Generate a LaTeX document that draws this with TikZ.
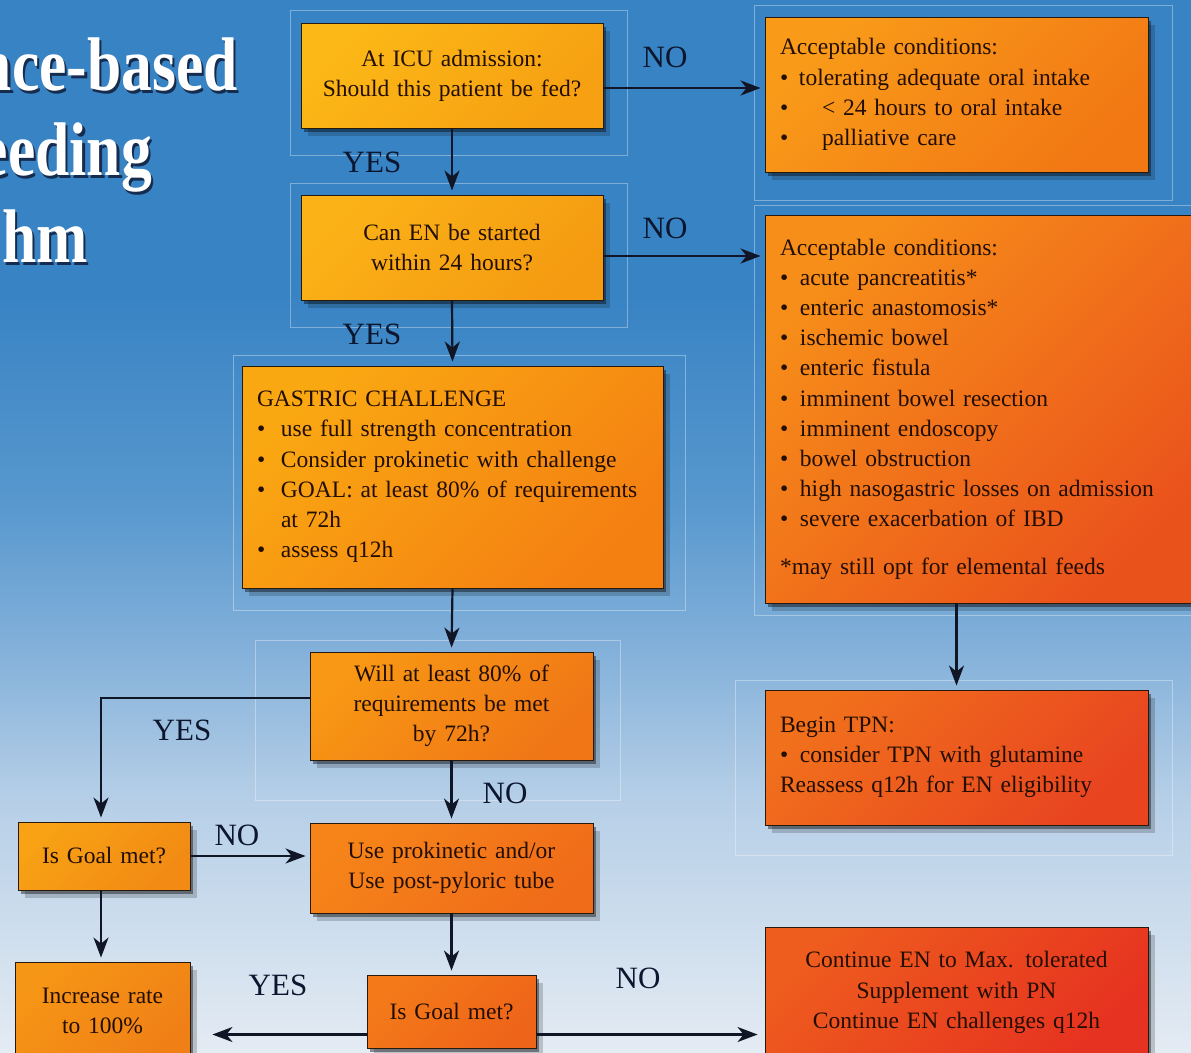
\documentclass[tikz,border=0pt]{standalone}
\usepackage{fontspec}
\setmainfont{Liberation Serif}
\usetikzlibrary{arrows.meta,shadows,calc}
\definecolor{bgA}{RGB}{228,235,243}
\definecolor{bgB}{RGB}{182,207,231}
\definecolor{bgC}{RGB}{132,177,218}
\definecolor{bgD}{RGB}{88,152,206}
\definecolor{bgE}{RGB}{56,131,196}
\definecolor{txtc}{RGB}{34,14,2}
\definecolor{labc}{RGB}{12,22,46}
\definecolor{linec}{RGB}{16,22,38}
\definecolor{tsh}{RGB}{22,44,78}
\definecolor{q1a}{RGB}{252,184,22}\definecolor{q1b}{RGB}{246,160,18}
\definecolor{q2a}{RGB}{251,178,22}\definecolor{q2b}{RGB}{245,155,18}
\definecolor{gasa}{RGB}{250,168,18}\definecolor{gasb}{RGB}{244,128,18}
\definecolor{r1a}{RGB}{249,155,25}\definecolor{r1b}{RGB}{242,120,20}
\definecolor{r2a}{RGB}{247,142,25}\definecolor{r2b}{RGB}{234,82,28}
\definecolor{willa}{RGB}{248,152,20}\definecolor{willb}{RGB}{240,118,22}
\definecolor{g1a}{RGB}{248,162,20}\definecolor{g1b}{RGB}{242,138,20}
\definecolor{prka}{RGB}{246,132,25}\definecolor{prkb}{RGB}{240,108,25}
\definecolor{inca}{RGB}{246,150,22}\definecolor{incb}{RGB}{240,128,22}
\definecolor{g2a}{RGB}{244,122,25}\definecolor{g2b}{RGB}{238,100,25}
\definecolor{tpna}{RGB}{241,112,28}\definecolor{tpnb}{RGB}{232,68,32}
\definecolor{cona}{RGB}{238,92,30}\definecolor{conb}{RGB}{230,50,32}
\pgfdeclareverticalshading{bgshade}{100bp}{color(0bp)=(bgA); color(25bp)=(bgA); color(37bp)=(bgB); color(44bp)=(bgC); color(51bp)=(bgD); color(61bp)=(bgE); color(75bp)=(bgE); color(100bp)=(bgE)}
\newcommand\bodyfont{\fontsize{23.5}{30.2}\selectfont}
\newcommand\labfont{\fontsize{31}{34}\selectfont}
\newcommand\titlefont{\fontsize{76}{80}\selectfont\bfseries}
\newcommand\bulA{\makebox[19pt][l]{•}}
\newcommand\bulB{\makebox[20pt][l]{•}}
\newcommand\bulG{\makebox[24pt][l]{•}}
\newcommand\ttltext[1]{\scalebox{0.81}[1]{\rlap{\hspace{3pt}\raisebox{-3pt}{\color{tsh}#1}}#1}}
\tikzset{
  box/.style={draw=black!80!brown, line width=0.9pt, inner xsep=15pt, inner ysep=3pt,
    text=txtc, font=\bodyfont,
    drop shadow={shadow xshift=7pt, shadow yshift=-8pt, opacity=0.18, fill=black},
    drop shadow={shadow xshift=3pt, shadow yshift=-4pt, opacity=0.4, fill=black}},
  shd/.style 2 args={left color=#1, right color=#2, shading angle=45},
  arr/.style={draw=linec, line width=2.2pt, shorten >=4pt, -{Stealth[length=20pt,width=15pt,inset=6pt]}},
  lab/.style={font=\labfont, text=labc, inner sep=0pt},
  frame/.style={draw=white, draw opacity=0.35, line width=1pt},
  ttl/.style={font=\titlefont, text=white, inner sep=0pt, anchor=base east}
}
\begin{document}
\begin{tikzpicture}[x=1pt,y=-1pt]
\useasboundingbox (0,0) rectangle (1191,1052);
\clip (0,0) rectangle (1191,1052);
\shade[shading=bgshade] (0,0) rectangle (1191,1052);

% title
\node[ttl] (t1) at (238,90) {\ttltext{nce-based}};
\node[ttl] (t2) at (152,175) {\ttltext{eeding}};
\node[ttl] (t3) at (88,262) {\ttltext{hm}};

% faint frames
\draw[frame] (290,10) rectangle (627,155);
\draw[frame] (290,183) rectangle (627,327);
\draw[frame] (233,355) rectangle (685,610);
\draw[frame] (754,5) rectangle (1172,200);
\draw[frame] (754,205) rectangle (1200,615);
\draw[frame] (255,640) rectangle (620,800);
\draw[frame] (735,680) rectangle (1172,855);

% boxes
\node[box, shd={q1a}{q1b}, minimum width=302pt, minimum height=105pt, text width=272pt, align=center] (q1) at (452,75.5)
  {At ICU admission:\\Should this patient be fed?};
\node[box, shd={q2a}{q2b}, minimum width=302pt, minimum height=105pt, text width=272pt, align=center] (q2) at (452,247.5)
  {Can EN be started\\within 24 hours?};
\node[box, shd={gasa}{gasb}, minimum width=421pt, minimum height=222pt, text width=391pt, align=left] (gas) at (452.5,477)
  {GASTRIC CHALLENGE\\
   \bulG use full strength concentration\\
   \bulG Consider prokinetic with challenge\\
   \bulG GOAL: at least 80\% of requirements\\
   \hspace*{24pt}at 72h\\
   \bulG assess q12h};
\node[box, shd={r1a}{r1b}, minimum width=383pt, minimum height=155pt, text width=353pt, align=left] (r1) at (956.5,94.5)
  {Acceptable conditions:\\
   \bulA tolerating adequate oral intake\\
   \bulA\hspace{23pt}< 24 hours to oral intake\\
   \bulA\hspace{23pt}palliative care};
\node[box, shd={r2a}{r2b}, minimum width=440pt, minimum height=388pt, text width=410pt, align=left] (r2) at (985,409)
  {Acceptable conditions:\\
   \bulB acute pancreatitis*\\
   \bulB enteric anastomosis*\\
   \bulB ischemic bowel\\
   \bulB enteric fistula\\
   \bulB imminent bowel resection\\
   \bulB imminent endoscopy\\
   \bulB bowel obstruction\\
   \bulB high nasogastric losses on admission\\
   \bulB severe exacerbation of IBD\\[17pt]
   *may still opt for elemental feeds};
\node[box, shd={willa}{willb}, minimum width=283pt, minimum height=108pt, text width=253pt, align=center] (will) at (451.5,706)
  {Will at least 80\% of\\requirements be met\\by 72h?};
\node[box, shd={g1a}{g1b}, minimum width=172pt, minimum height=68pt, text width=142pt, align=center] (goal1) at (104,856)
  {Is Goal met?};
\node[box, shd={prka}{prkb}, minimum width=283pt, minimum height=90pt, text width=253pt, align=center] (prok) at (451.5,868)
  {Use prokinetic and/or\\Use post-pyloric tube};
\node[box, shd={inca}{incb}, minimum width=175pt, minimum height=98pt, text width=145pt, align=center] (inc) at (102.5,1011)
  {Increase rate\\to 100\%};
\node[box, shd={g2a}{g2b}, minimum width=169pt, minimum height=73pt, text width=139pt, align=center] (goal2) at (451.5,1011.5)
  {Is Goal met?};
\node[box, shd={tpna}{tpnb}, minimum width=383pt, minimum height=135pt, text width=353pt, align=left] (tpn) at (956.5,757.5)
  {Begin TPN:\\
   \bulB consider TPN with glutamine\\
   Reassess q12h for EN eligibility};
\node[box, shd={cona}{conb}, minimum width=383pt, minimum height=131pt, text width=353pt, align=center] (cont) at (956.5,992.5)
  {Continue EN to Max. tolerated\\Supplement with PN\\Continue EN challenges q12h};

% connectors
\draw[arr] ([yshift=-12.5pt]q1.east) -- ([yshift=-12.5pt]q1.east -| r1.west);
\draw[arr] ([yshift=-8.5pt]q2.east) -- ([yshift=-8.5pt]q2.east -| r2.west);
\draw[arr] (q1.south) -- (q2.north);
\draw[arr] (q2.south) -- (gas.north);
\draw[arr] (gas.south) -- (will.north);
\draw[arr] ([yshift=8pt]will.west) -| ([xshift=-3pt]goal1.north);
\draw[arr] (will.south) -- (prok.north);
\draw[arr] (goal1.east) -- (goal1.east -| prok.west);
\draw[arr] ([xshift=-3pt]goal1.south) -- ([xshift=-3pt]goal1.south |- inc.north);
\draw[arr] (prok.south) -- (goal2.north);
\draw[arr, shorten >=22pt] ([yshift=-23pt]goal2.west) -- ([yshift=-23pt]goal2.west -| inc.east);
\draw[arr, shorten >=7pt] ([yshift=-23pt]goal2.east) -- ([yshift=-23pt]goal2.east -| cont.west);
\draw[arr] (tpn.north |- r2.south) -- (tpn.north);

% labels
\node[lab] (l1) at (665,57) {NO};
\node[lab] (l2) at (665,228) {NO};
\node[lab] (l3) at (372,162) {YES};
\node[lab] (l4) at (372,334) {YES};
\node[lab] (l5) at (182,730) {YES};
\node[lab] (l6) at (505,793) {NO};
\node[lab] (l7) at (237,835) {NO};
\node[lab] (l8) at (278,985) {YES};
\node[lab] (l9) at (638,978) {NO};
\end{tikzpicture}
\end{document}
